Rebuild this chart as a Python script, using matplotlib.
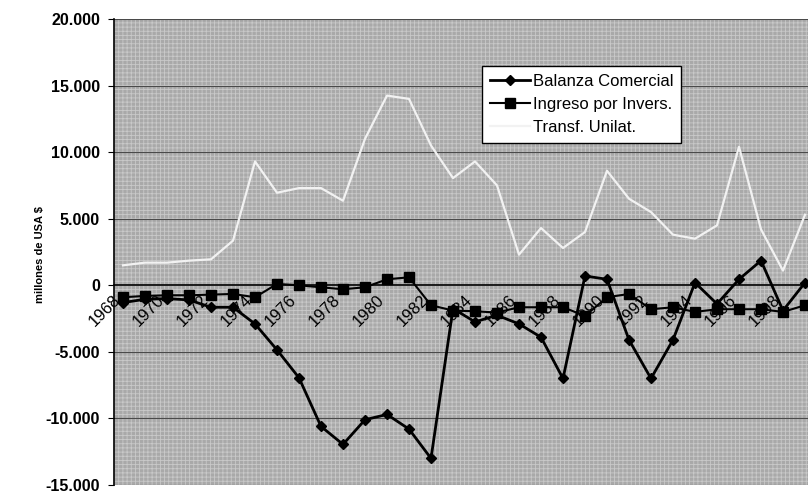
import matplotlib.pyplot as plt
import matplotlib.transforms as mtransforms
from matplotlib.ticker import FuncFormatter, FixedLocator

# series anuales, millones de USA $
anios = list(range(1968, 2000))
balanza = [-1300, -1050, -1000, -1100, -1650, -1650, -2900, -4850, -6950, -10600,
           -11950, -10100, -9700, -10800, -13000, -1750, -2750, -2250, -2900, -3900,
           -7000, 700, 450, -4100, -7000, -4100, 200, -1400, 450, 1850, -1900, 200]
ingreso = [-900, -800, -750, -750, -700, -650, -900, 100, 0, -150,
           -300, -150, 450, 600, -1500, -1900, -1950, -2050, -1650, -1650,
           -1650, -2300, -900, -650, -1800, -1650, -2000, -1800, -1800, -1800, -2000, -1500]
transf = [1500, 1700, 1700, 1850, 1950, 3350, 9300, 6950, 7300, 7300,
          6350, 11000, 14250, 14000, 10500, 8050, 9300, 7500, 2300, 4300,
          2800, 4000, 8600, 6500, 5500, 3800, 3500, 4500, 10400, 4200, 1100, 5300]
etiquetas = [str(a) for a in range(1968, 2000, 2)]

plt.rcParams['font.family'] = ['Liberation Sans', 'DejaVu Sans']
plt.rcParams['hatch.linewidth'] = 0.6

fig = plt.figure(figsize=(8.08, 4.94), dpi=100)
ax = fig.add_axes([114 / 808, 9 / 494, 694 / 808, 466 / 494])

# fondo gris tramado
ax.set_facecolor('#a9a9a9')
fondo = plt.Rectangle((0, 0), 1, 1, transform=ax.transAxes, facecolor='none',
                      edgecolor='#c9c9c9', hatch='++++', lw=0, zorder=0)
ax.add_patch(fondo)

for v in [20000, 15000, 10000, 5000, -5000, -10000, -15000]:
    ax.axhline(v, color='#4a4a4a', lw=0.8, zorder=1)

ax.plot(anios, transf, color='#f2f2f2', lw=1.6, zorder=3, label='Transf. Unilat.')
ax.plot(anios, ingreso, color='black', lw=1.5, marker='s', ms=7, zorder=4,
        label='Ingreso por Invers.')
ax.plot(anios, balanza, color='black', lw=2, marker='D', ms=5, zorder=5,
        label='Balanza Comercial')

ax.set_xlim(1968 - 9 / 22, 1968 + 685 / 22)
ax.set_ylim(-15000, 20000)
ax.set_yticks(range(-15000, 20001, 5000))
ax.yaxis.set_major_formatter(FuncFormatter(lambda v, p: f'{v:,.0f}'.replace(',', '.')))
ax.tick_params(axis='y', labelsize=11.5, length=4, direction='out', pad=6)
for t in ax.get_yticklabels():
    t.set_fontweight('bold')

# eje de categorias cruzando en cero
ax.spines['bottom'].set_position(('data', 0))
ax.spines['bottom'].set_linewidth(1.2)
ax.spines['top'].set_visible(False)
ax.spines['right'].set_visible(False)
ax.spines['left'].set_linewidth(1.2)
ax.xaxis.set_major_locator(FixedLocator(range(1968, 2000, 2)))
ax.set_xticklabels(etiquetas)
ax.tick_params(axis='x', length=0, labelsize=12, pad=5)
desplazar = mtransforms.ScaledTranslation(-10 / 100, 0, fig.dpi_scale_trans)
for t in ax.get_xticklabels():
    t.set_rotation(45)
    t.set_rotation_mode('anchor')
    t.set_ha('right')
    t.set_va('top')
    t.set_transform(t.get_transform() + desplazar)

fig.text(40 / 808, 1 - 255 / 494, 'millones de USA $', rotation=90, ha='center',
         va='center', fontsize=8, fontweight='bold')

h, l = ax.get_legend_handles_labels()
leg = ax.legend(h[::-1], l[::-1], loc='upper left', bbox_to_anchor=((482 - 114) / 694, 1 - 47 / 466),
                prop={'size': 12}, frameon=True, fancybox=False, framealpha=1,
                edgecolor='black', handlelength=2.4, handletextpad=0.2,
                borderpad=0.45, labelspacing=0.5, borderaxespad=0)
leg.get_frame().set_linewidth(1.0)
leg.set_zorder(6)

fig.savefig('out.png', dpi=100)
